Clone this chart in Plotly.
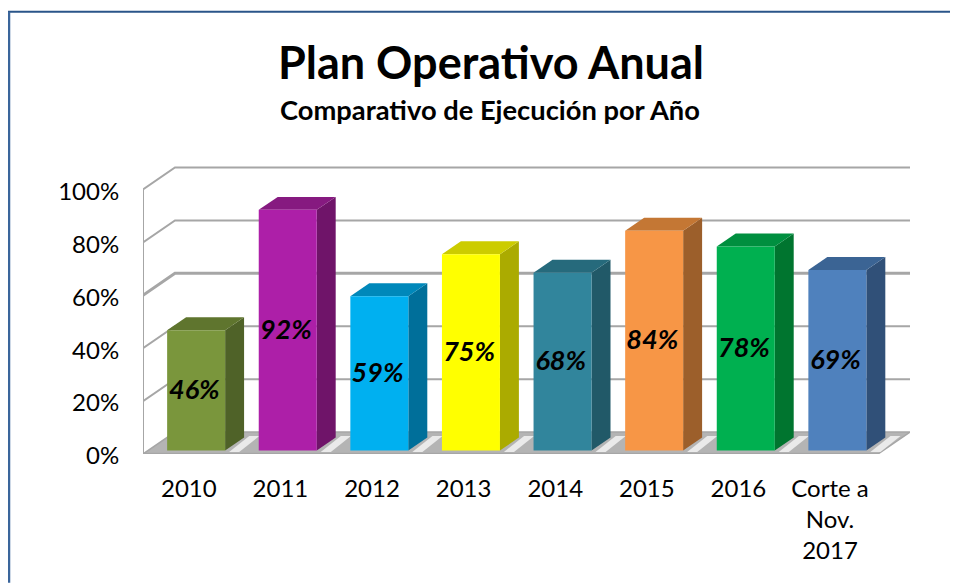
import plotly.graph_objects as go

categories = ["2010", "2011", "2012", "2013", "2014", "2015", "2016", "Corte a<br>Nov.<br>2017"]
values = [46, 92, 59, 75, 68, 84, 78, 69]
front_colors = ["#7A963C", "#AD1FA8", "#00B0F0", "#FFFF00", "#31859C", "#F79646", "#00B050", "#4F81BD"]
side_colors = ["#4F6228", "#6F1469", "#006F9A", "#ABAB00", "#215968", "#9C5F2B", "#00752F", "#305078"]
top_colors = ["#5F752E", "#861A80", "#0088BA", "#CCCC00", "#266A7C", "#C47734", "#008F3F", "#3B6494"]
y_ticks = [0, 20, 40, 60, 80, 100]
y_ticktext = ["0%", "20%", "40%", "60%", "80%", "100%"]

FONT = "Lato"
WALL_DX, WALL_DY = 0.349, 8.3
BAR_DX, BAR_DY = 0.207, 4.9
BAR_W = 0.633
BAR_OFF = 0.58
BAR_BASE = 1.3
BAR_K = 0.989
N = len(categories)
FLOOR_END = N + 0.024
GRID = "#A6A6A6"

# the page body adds an 8 px offset, so layout values are relative to it
PAGE = 8
W, H = 958, 583 - PAGE
L, R, T, B = 143 - PAGE, 56, 162.5 - PAGE, 129
PW, PH = W - L - R, H - T - B


def px(x):
    return (x - PAGE - L) / PW


def py(y):
    return 1 - (y - PAGE - T) / PH


fig = go.Figure()


def poly(xs, ys, color, line=None, width=0):
    fig.add_trace(go.Scatter(x=xs, y=ys, mode="lines", fill="toself", fillcolor=color,
                             line=dict(color=line or color, width=width), hoverinfo="skip",
                             showlegend=False, cliponaxis=False))


def seg(xs, ys, width=2, color=GRID):
    fig.add_trace(go.Scatter(x=xs, y=ys, mode="lines", line=dict(color=color, width=width),
                             hoverinfo="skip", showlegend=False, cliponaxis=False))


# walls
for t in y_ticks[1:]:
    seg([0, WALL_DX, FLOOR_END + WALL_DX], [t, t + WALL_DY, t + WALL_DY], width=3 if t == 60 else 2)

# floor
poly([0, WALL_DX, FLOOR_END + WALL_DX, FLOOR_END, 0], [0, WALL_DY, WALL_DY, 0, 0], "#B4B4B4", GRID, 1.5)
for i in range(1, N + 1):
    a = i - 0.06
    poly([a, a + 0.22, a + 0.33, a + 0.11], [0.8, WALL_DY - 1.5, WALL_DY - 1.5, 0.8], "#EAEAEA")

seg([0, 0], [0, 100])
seg([0, FLOOR_END], [0, 0], width=2.5)

# bars: side, top and front faces
for i, v in enumerate(values):
    left = i + BAR_OFF - BAR_W / 2
    right = i + BAR_OFF + BAR_W / 2
    top = BAR_BASE + v * BAR_K
    poly([right, right + BAR_DX, right + BAR_DX, right, right],
         [BAR_BASE, BAR_BASE + BAR_DY, top + BAR_DY, top, BAR_BASE], side_colors[i])
    poly([left, left + BAR_DX, right + BAR_DX, right, left],
         [top, top + BAR_DY, top + BAR_DY, top, top], top_colors[i])
    poly([left, right, right, left, left],
         [BAR_BASE, BAR_BASE, top, top, BAR_BASE], front_colors[i])

# data labels
fig.add_trace(go.Scatter(x=[i + BAR_OFF - 0.02 for i in range(N)],
                         y=[BAR_BASE + v * BAR_K / 2 - 0.7 for v in values],
                         mode="text", text=[f"<b><i>{v}%</i></b>" for v in values],
                         textposition="middle center",
                         textfont=dict(family=FONT, size=27, color="black"),
                         hoverinfo="skip", showlegend=False, cliponaxis=False))

fig.update_layout(
    width=W, height=H, autosize=False,
    paper_bgcolor="white", plot_bgcolor="white",
    margin=dict(l=L, r=R, t=T, b=B, autoexpand=False),
    showlegend=False,
    font=dict(family=FONT, color="black"),
    xaxis=dict(range=[0, FLOOR_END + WALL_DX], tickvals=[i + 0.5 for i in range(N)], ticktext=categories,
               showgrid=False, zeroline=False, showline=False, ticks="outside", ticklen=13,
               tickcolor="rgba(0,0,0,0)", tickfont=dict(family=FONT, size=24, color="black")),
    yaxis=dict(range=[0, 110], tickvals=y_ticks, ticktext=y_ticktext,
               showgrid=False, zeroline=False, showline=False, ticks="outside", ticklen=18,
               tickcolor="rgba(0,0,0,0)", tickfont=dict(family=FONT, size=24, color="black"),
               ticklabelshift=2),
    annotations=[
        dict(text="<b>Plan Operativo Anual</b>", xref="paper", yref="paper", x=px(490.5),
             y=py(61), xanchor="center", yanchor="middle", showarrow=False,
             font=dict(family=FONT, size=45, color="black")),
        dict(text="<b>Comparativo de Ejecución por Año</b>", xref="paper", yref="paper", x=px(490),
             y=py(109), xanchor="center", yanchor="middle", showarrow=False,
             font=dict(family=FONT, size=27.3, color="black")),
    ],
    shapes=[
        dict(type="line", xref="paper", yref="paper", x0=px(8), x1=px(966),
             y0=py(11), y1=py(11), line=dict(color="#2A5589", width=2)),
        dict(type="line", xref="paper", yref="paper", x0=px(9), x1=px(9),
             y0=py(11), y1=py(583), line=dict(color="#3A659B", width=2.5)),
    ],
)

fig.write_html("out.html")
